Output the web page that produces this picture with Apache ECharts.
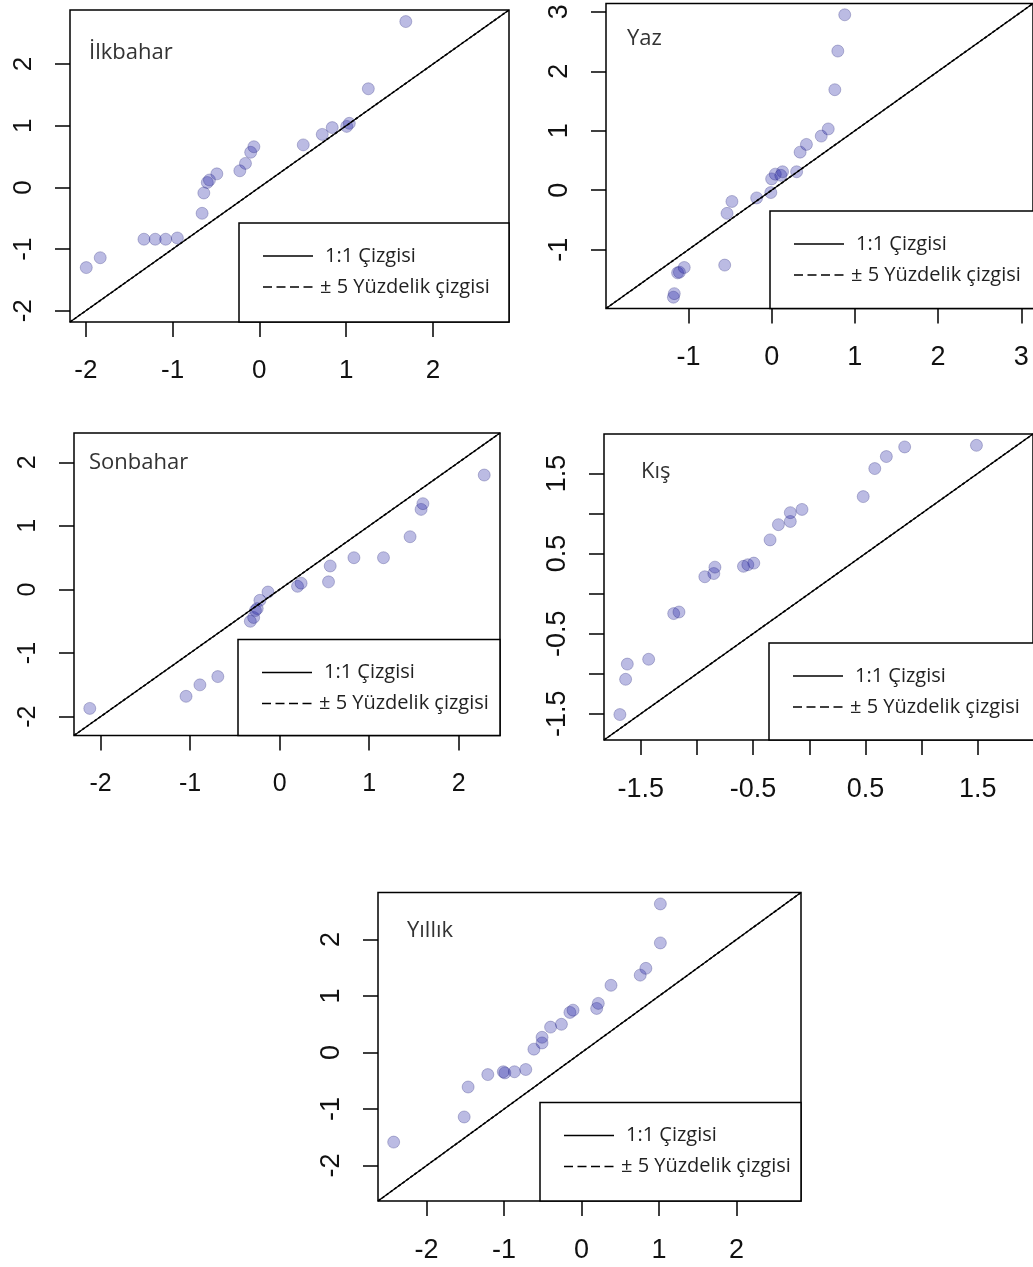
<!DOCTYPE html>
<html>
<head>
<meta charset="utf-8">
<title>Q-Q grafikleri</title>
<script src="https://cdn.jsdelivr.net/npm/echarts@6/dist/echarts.min.js"></script>
<style>
  html, body { margin: 0; padding: 0; background: #ffffff; }
  #chart { width: 1033px; height: 1267px; }
</style>
</head>
<body>
<div id="chart"></div>
<script>
// noktalar: x teorik, y gözlenen
const ilkbaharX = [-1.995, -1.834, -1.33, -1.20, -1.08, -0.945, -0.66, -0.64, -0.60, -0.575, -0.49, -0.225, -0.16, -0.10, -0.063, 0.506, 0.725, 0.84, 1.007, 1.037, 1.256, 1.688];
const ilkbaharY = [-1.30, -1.14, -0.84, -0.84, -0.84, -0.82, -0.42, -0.09, 0.08, 0.12, 0.22, 0.27, 0.39, 0.57, 0.66, 0.69, 0.86, 0.97, 0.99, 1.04, 1.60, 2.69];

const yazX = [-1.18, -1.17, -1.13, -1.108, -1.05, -0.564, -0.536, -0.477, -0.18, -0.01, 0.0, 0.044, 0.11, 0.131, 0.30, 0.342, 0.418, 0.596, 0.68, 0.759, 0.795, 0.878];
const yazY = [-1.80, -1.74, -1.39, -1.38, -1.30, -1.26, -0.39, -0.19, -0.13, -0.04, 0.19, 0.27, 0.25, 0.31, 0.31, 0.64, 0.77, 0.91, 1.03, 1.69, 2.34, 2.95];

const sonbaharX = [-2.12, -1.045, -0.89, -0.69, -0.327, -0.29, -0.27, -0.25, -0.22, -0.13, 0.20, 0.24, 0.546, 0.565, 0.83, 1.16, 1.457, 1.58, 1.60, 2.285];
const sonbaharY = [-1.87, -1.68, -1.50, -1.37, -0.50, -0.44, -0.33, -0.30, -0.17, -0.04, 0.05, 0.10, 0.12, 0.37, 0.50, 0.50, 0.83, 1.26, 1.35, 1.80];

const kisX = [-1.686, -1.635, -1.62, -1.43, -1.207, -1.16, -0.93, -0.85, -0.84, -0.586, -0.547, -0.494, -0.349, -0.275, -0.169, -0.169, -0.065, 0.48, 0.583, 0.686, 0.849, 1.488];
const kisY = [-1.51, -1.07, -0.88, -0.82, -0.25, -0.23, 0.21, 0.25, 0.33, 0.34, 0.36, 0.38, 0.67, 0.86, 0.90, 1.01, 1.05, 1.21, 1.56, 1.71, 1.83, 1.85];

const yillikX = [-2.425, -1.515, -1.464, -1.21, -1.01, -0.99, -0.866, -0.72, -0.615, -0.51, -0.51, -0.40, -0.26, -0.15, -0.11, 0.195, 0.216, 0.38, 0.757, 0.83, 1.017, 1.017];
const yillikY = [-1.585, -1.14, -0.61, -0.39, -0.34, -0.36, -0.34, -0.30, 0.06, 0.17, 0.27, 0.45, 0.50, 0.71, 0.75, 0.78, 0.87, 1.19, 1.37, 1.49, 1.94, 2.63];

const panelNames = ['İlkbahar', 'Yaz', 'Sonbahar', 'Kış', 'Yıllık'];
const legendLabels = ['1:1 Çizgisi', '± 5 Yüzdelik çizgisi'];

// eksen işaretleri
const ticksInt = [-2, -1, 0, 1, 2];
const ticksYaz = [-1, 0, 1, 2, 3];
const ticksKis = [-1.5, -1, -0.5, 0, 0.5, 1, 1.5];
const labelsKis = [-1.5, -0.5, 0.5, 1.5];

// yerleşim (px)
const layout = [
  { left: 70,  top: 10,    width: 439, height: 312,   legW: 270, legH: 99,   tx: 89,  ty: 53,  fs: 26 },
  { left: 606, top: 3.5,   width: 430, height: 305,   legW: 266, legH: 97.5, tx: 627, ty: 39,  fs: 27 },
  { left: 74,  top: 433,   width: 426, height: 302.5, legW: 262, legH: 96,   tx: 89,  ty: 463, fs: 25 },
  { left: 604, top: 434,   width: 430, height: 306,   legW: 265, legH: 97,   tx: 641, ty: 472, fs: 27 },
  { left: 378, top: 892.5, width: 423, height: 308.5, legW: 261, legH: 98.5, tx: 407, ty: 931, fs: 27 }
];

const panels = [
  { xs: ilkbaharX, ys: ilkbaharY, ticks: ticksInt, labels: ticksInt },
  { xs: yazX,      ys: yazY,      ticks: ticksYaz, labels: ticksYaz },
  { xs: sonbaharX, ys: sonbaharY, ticks: ticksInt, labels: ticksInt },
  { xs: kisX,      ys: kisY,      ticks: ticksKis, labels: labelsKis },
  { xs: yillikX,   ys: yillikY,   ticks: ticksInt, labels: ticksInt }
];

// R gibi: iki eksen ortak aralık, %4 genişletilmiş
function qqRange(xs, ys) {
  const lo = Math.min(...xs, ...ys);
  const hi = Math.max(...xs, ...ys);
  const pad = (hi - lo) * 0.04;
  return [lo - pad, hi + pad];
}

const chart = echarts.init(document.getElementById('chart'), null, { renderer: 'canvas' });

const grids = [], xAxes = [], yAxes = [], series = [], graphics = [];

panels.forEach(function (p, i) {
  const l = layout[i];
  const r = qqRange(p.xs, p.ys);

  grids.push({
    left: l.left, top: l.top, width: l.width, height: l.height,
    show: true, borderColor: '#000', borderWidth: 1.5, backgroundColor: 'transparent'
  });

  const axisBase = {
    gridIndex: i,
    type: 'value',
    min: r[0],
    max: r[1],
    axisLine: { show: false, onZero: false },
    splitLine: { show: false },
    axisTick: { show: true, customValues: p.ticks, length: 15, lineStyle: { color: '#000', width: 1.5 } },
    axisLabel: {
      customValues: p.labels,
      fontFamily: 'Liberation Sans',
      fontSize: l.fs,
      color: '#111'
    }
  };
  xAxes.push(echarts.util.merge({ position: 'bottom', axisLabel: { margin: 36 } }, axisBase, true));
  yAxes.push(echarts.util.merge({ position: 'left', axisLabel: { margin: 33, rotate: 90 } }, axisBase, true));

  const diag = [[r[0], r[0]], [r[1], r[1]]];
  series.push({
    name: legendLabels[0], type: 'line', xAxisIndex: i, yAxisIndex: i,
    data: diag, showSymbol: false, silent: true,
    lineStyle: { color: '#000', width: 1.2 }
  });
  series.push({
    name: legendLabels[1], type: 'line', xAxisIndex: i, yAxisIndex: i,
    data: diag, showSymbol: false, silent: true,
    lineStyle: { color: '#000', width: 1.6, type: [3, 2] }
  });
  series.push({
    name: panelNames[i], type: 'scatter', xAxisIndex: i, yAxisIndex: i,
    data: p.xs.map(function (x, k) { return [x, p.ys[k]]; }),
    symbolSize: 12,
    itemStyle: { color: 'rgba(20,20,160,0.36)', borderColor: 'rgba(20,20,110,0.32)', borderWidth: 1 }
  });

  // panel adı
  graphics.push({
    type: 'text', x: l.tx, y: l.ty, z: 10,
    style: { text: panelNames[i], font: '22px "Open Sans"', fill: '#333', textVerticalAlign: 'middle' }
  });

  // açıklama kutusu (sağ alt)
  const bx = l.left + l.width - l.legW;
  const by = l.top + l.height - l.legH;
  graphics.push({
    type: 'rect', z: 10,
    shape: { x: bx, y: by, width: l.legW, height: l.legH },
    style: { fill: '#fff', stroke: '#000', lineWidth: 1.5 }
  });
  graphics.push({
    type: 'line', z: 11,
    shape: { x1: bx + 24, y1: by + 33, x2: bx + 74, y2: by + 33 },
    style: { stroke: '#000', lineWidth: 1.5 }
  });
  graphics.push({
    type: 'line', z: 11,
    shape: { x1: bx + 24, y1: by + 64, x2: bx + 74, y2: by + 64 },
    style: { stroke: '#000', lineWidth: 1.5, lineDash: [9, 4.5] }
  });
  graphics.push({
    type: 'text', z: 11, x: bx + 86, y: by + 33,
    style: { text: legendLabels[0], font: '20px "Open Sans"', fill: '#222', textVerticalAlign: 'middle' }
  });
  graphics.push({
    type: 'text', z: 11, x: bx + 81, y: by + 64,
    style: { text: legendLabels[1], font: '20px "Open Sans"', fill: '#222', textVerticalAlign: 'middle' }
  });
});

chart.setOption({
  backgroundColor: '#ffffff',
  animation: false,
  grid: grids,
  xAxis: xAxes,
  yAxis: yAxes,
  series: series,
  graphic: graphics
});
</script>
</body>
</html>
